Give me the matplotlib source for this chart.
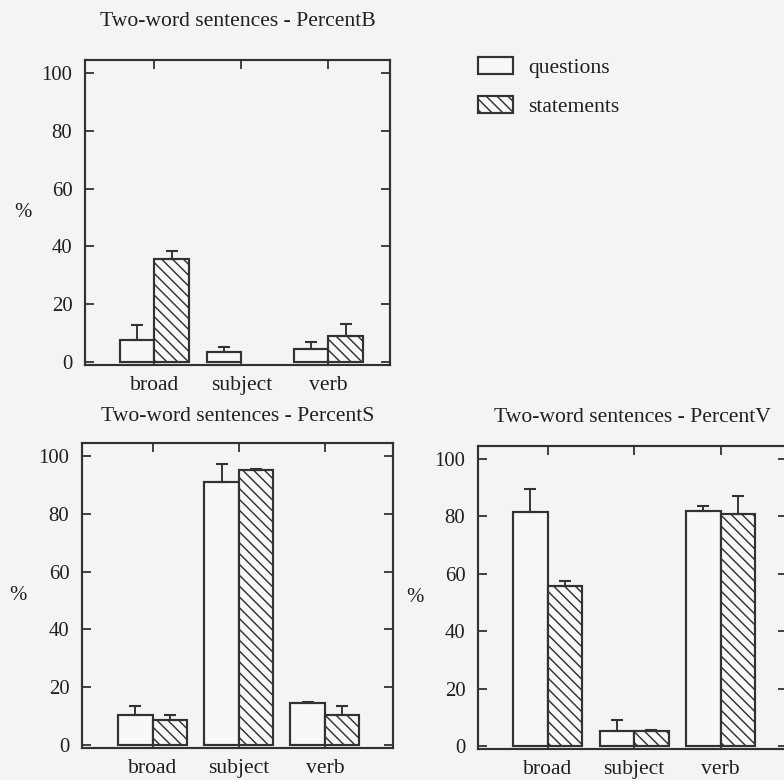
import numpy as np
import matplotlib
matplotlib.use("Agg")
import matplotlib.pyplot as plt
from matplotlib.patches import Patch

# ---- data ----
categories = ["broad", "subject", "verb"]
series_names = ["questions", "statements"]

titles = ["Two-word sentences - PercentB",
          "Two-word sentences - PercentS",
          "Two-word sentences - PercentV"]

pb_questions = [7.7, 3.5, 4.5]
pb_questions_err = [5.0, 1.7, 2.4]
pb_statements = [35.8, 0.0, 9.1]
pb_statements_err = [2.5, 0.0, 4.2]

ps_questions = [10.4, 90.9, 14.5]
ps_questions_err = [3.3, 6.5, 0.3]
ps_statements = [8.6, 95.0, 10.5]
ps_statements_err = [1.8, 0.6, 3.2]

pv_questions = [81.6, 5.3, 81.9]
pv_questions_err = [7.9, 3.7, 1.7]
pv_statements = [55.6, 5.3, 80.7]
pv_statements_err = [2.0, 0.3, 6.5]

yticks = [0, 20, 40, 60, 80, 100]

# ---- style ----
DPI = 130
BG = "#f4f4f4"
INK = "#323232"
TXT = "#202020"
HATCH = "\\\\\\\\"
plt.rcParams["font.family"] = ["Liberation Serif", "DejaVu Serif"]
plt.rcParams["hatch.linewidth"] = 0.8
plt.rcParams["hatch.color"] = INK

fig = plt.figure(figsize=(784 / DPI, 780 / DPI), dpi=DPI, facecolor=BG)

panels = [
    ([85 / 784, 1 - 365 / 780, 305 / 784, 305 / 780], (-0.797, 2.709), 19.0,
     pb_questions, pb_questions_err, pb_statements, pb_statements_err, titles[0]),
    ([82 / 784, 1 - 748 / 780, 311 / 784, 305 / 780], (-0.82, 2.79), 12.0,
     ps_questions, ps_questions_err, ps_statements, ps_statements_err, titles[1]),
    ([478 / 784, 1 - 749 / 780, 309 / 784, 303 / 780], (-0.806, 2.767), 13.5,
     pv_questions, pv_questions_err, pv_statements, pv_statements_err, titles[2]),
]

w = 0.4
x = np.arange(len(categories))

for rect, xlim, tpad, q, qe, s, se, title in panels:
    ax = fig.add_axes(rect)
    ax.set_facecolor(BG)
    qv = np.array(q, dtype=float)
    sv = np.array(s, dtype=float)
    ax.bar(x - w / 2, np.where(qv > 0, qv, np.nan), w, facecolor="#f8f8f8",
           edgecolor=INK, linewidth=1.2, zorder=2)
    ax.bar(x + w / 2, np.where(sv > 0, sv, np.nan), w, facecolor="#f8f8f8",
           edgecolor=INK, linewidth=1.2, hatch=HATCH, zorder=2)
    for off, vals, errs in ((-w / 2, qv, qe), (w / 2, sv, se)):
        errs = np.array(errs)
        keep = errs > 0
        ax.errorbar((x + off)[keep], vals[keep],
                    yerr=[np.zeros(keep.sum()), errs[keep]],
                    fmt="none", ecolor=INK, elinewidth=1.05, capsize=3.2,
                    capthick=1.15, zorder=3)
    ax.set_xlim(*xlim)
    ax.set_ylim(-1.0, 104.5)
    ax.set_xticks(x)
    ax.set_xticklabels(categories, fontsize=12, color=TXT)
    ax.set_yticks(yticks)
    ax.set_yticklabels([str(v) for v in yticks], fontsize=11.5, color=TXT)
    ax.tick_params(axis="both", direction="in", length=5, width=1.0, color=INK,
                   top=True, right=True)
    ax.tick_params(axis="y", pad=7)
    ax.tick_params(axis="x", pad=6)
    for sp in ax.spines.values():
        sp.set_color(INK)
        sp.set_linewidth(1.2)
    ax.set_ylabel("%", rotation=0, fontsize=11.5, color=TXT, va="center", ha="center")
    ax.yaxis.set_label_coords(-0.205, 0.5)
    ax.set_title(title, fontsize=12, color=TXT, pad=tpad)

handles = [Patch(facecolor="#f8f8f8", edgecolor=INK, linewidth=1.2, label=series_names[0]),
           Patch(facecolor="#f8f8f8", edgecolor=INK, linewidth=1.2, hatch=HATCH,
                 label=series_names[1])]
fig.legend(handles=handles, loc="upper left",
           bbox_to_anchor=(478 / 784, 1 - 57 / 780), frameon=False,
           borderpad=0, borderaxespad=0, fontsize=12,
           handlelength=1.6, handleheight=0.83, handletextpad=0.72,
           labelspacing=0.82, labelcolor=TXT)

fig.savefig("out.png", dpi=DPI, facecolor=BG)
